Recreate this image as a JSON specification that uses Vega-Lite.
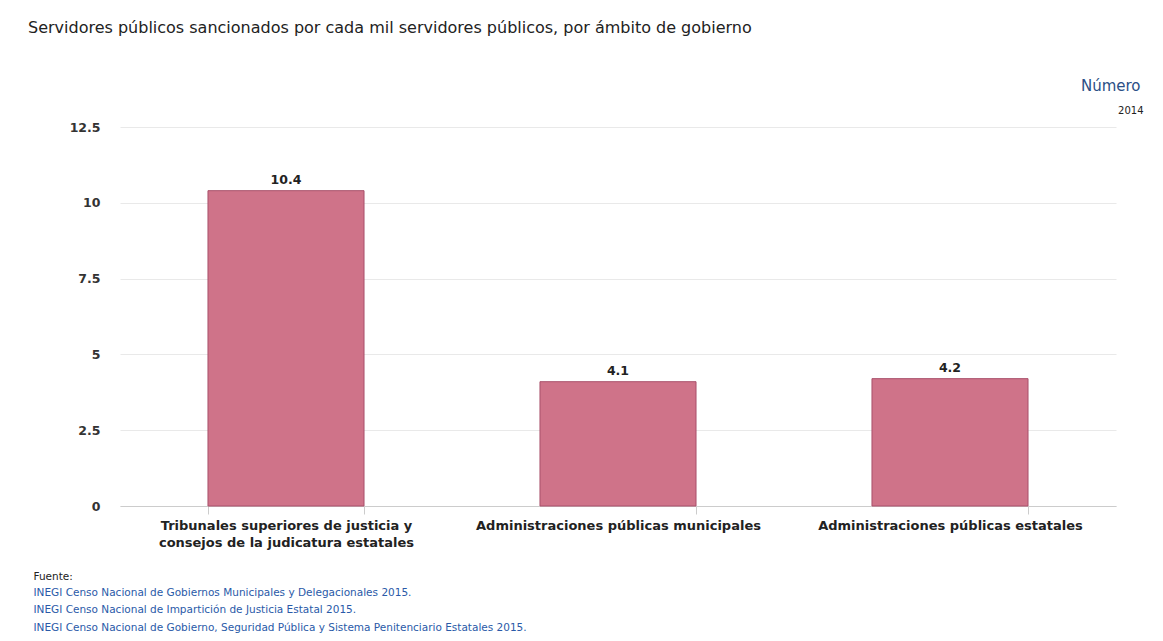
{
  "$schema": "https://vega.github.io/schema/vega-lite/v6.json",
  "width": 996,
  "height": 379,
  "autosize": {"type": "none"},
  "padding": {"left": 120, "top": 127, "right": 47, "bottom": 135},
  "background": "white",
  "title": {
    "text": "Servidores públicos sancionados por cada mil servidores públicos, por ámbito de gobierno",
    "anchor": "start",
    "frame": "group",
    "font": "DejaVu Sans",
    "fontSize": 16,
    "fontWeight": "normal",
    "color": "#222222",
    "baseline": "alphabetic",
    "dx": -92,
    "dy": -9,
    "offset": 20
  },
  "data": {
    "values": [
      {"ambito": "Tribunales superiores de justicia y consejos de la judicatura estatales", "valor": 10.4},
      {"ambito": "Administraciones públicas municipales", "valor": 4.1},
      {"ambito": "Administraciones públicas estatales", "valor": 4.2}
    ]
  },
  "layer": [
    {
      "mark": {"type": "bar", "color": "#cf7389", "stroke": "#a9506a", "strokeWidth": 1},
      "encoding": {
        "x": {
          "field": "ambito",
          "type": "nominal",
          "sort": null,
          "scale": {"paddingInner": 0.53, "paddingOuter": 0.265},
          "axis": {
            "orient": "bottom",
            "labelAngle": 0,
            "labelExpr": "datum.label == 'Tribunales superiores de justicia y consejos de la judicatura estatales' ? ['Tribunales superiores de justicia y', 'consejos de la judicatura estatales'] : datum.label",
            "labelFont": "DejaVu Sans",
            "labelFontSize": 13,
            "labelFontWeight": "bold",
            "labelColor": "#222222",
            "labelLineHeight": 17,
            "labelPadding": 5,
            "labelLimit": 400,
            "tickBand": "extent",
            "tickSize": 8,
            "tickColor": "#cccccc",
            "domainColor": "#cccccc",
            "title": "Fuente:",
            "titleFont": "DejaVu Sans",
            "titleFontSize": 10.5,
            "titleFontWeight": "normal",
            "titleColor": "#222222",
            "titleX": -87,
            "titleY": 73,
            "titleAlign": "left",
            "titleBaseline": "alphabetic"
          }
        },
        "y": {
          "field": "valor",
          "type": "quantitative",
          "scale": {"domain": [0, 12.5], "nice": false},
          "axis": {
            "orient": "left",
            "values": [0, 2.5, 5, 7.5, 10, 12.5],
            "format": ".1~f",
            "domain": false,
            "ticks": false,
            "grid": true,
            "gridColor": "#e9e9e9",
            "labelFont": "DejaVu Sans",
            "labelFontSize": 12.5,
            "labelFontWeight": "bold",
            "labelColor": "#333333",
            "labelPadding": 20,
            "title": "Número",
            "titleFont": "DejaVu Sans",
            "titleFontSize": 15,
            "titleFontWeight": "normal",
            "titleColor": "#2b4f86",
            "titleAngle": 0,
            "titleX": 1020,
            "titleY": -37,
            "titleAlign": "right",
            "titleBaseline": "alphabetic"
          }
        }
      }
    },
    {
      "mark": {"type": "text", "dy": -11, "font": "DejaVu Sans", "fontSize": 12.5, "fontWeight": "bold", "color": "#222222"},
      "encoding": {
        "x": {
          "field": "ambito",
          "type": "nominal",
          "sort": null,
          "axis": {
            "orient": "top",
            "labels": false,
            "ticks": false,
            "domain": false,
            "grid": false,
            "title": [
              "INEGI Censo Nacional de Gobiernos Municipales y Delegacionales 2015.",
              "INEGI Censo Nacional de Impartición de Justicia Estatal 2015.",
              "INEGI Censo Nacional de Gobierno, Seguridad Pública y Sistema Penitenciario Estatales 2015."
            ],
            "titleFont": "DejaVu Sans",
            "titleFontSize": 10.5,
            "titleFontWeight": "normal",
            "titleColor": "#2a5aa8",
            "titleLineHeight": 17.5,
            "titleX": -87,
            "titleY": 468,
            "titleAlign": "left",
            "titleBaseline": "alphabetic"
          }
        },
        "y": {
          "field": "valor",
          "type": "quantitative",
          "axis": {
            "orient": "right",
            "labels": false,
            "ticks": false,
            "domain": false,
            "grid": false,
            "title": "2014",
            "titleFont": "DejaVu Sans",
            "titleFontSize": 10,
            "titleFontWeight": "normal",
            "titleColor": "#222222",
            "titleAngle": 0,
            "titleX": 27,
            "titleY": -14,
            "titleAlign": "right",
            "titleBaseline": "alphabetic"
          }
        },
        "text": {"field": "valor", "type": "quantitative", "format": ".1f"}
      }
    }
  ],
  "resolve": {"axis": {"x": "independent", "y": "independent"}},
  "config": {"view": {"stroke": null}}
}
